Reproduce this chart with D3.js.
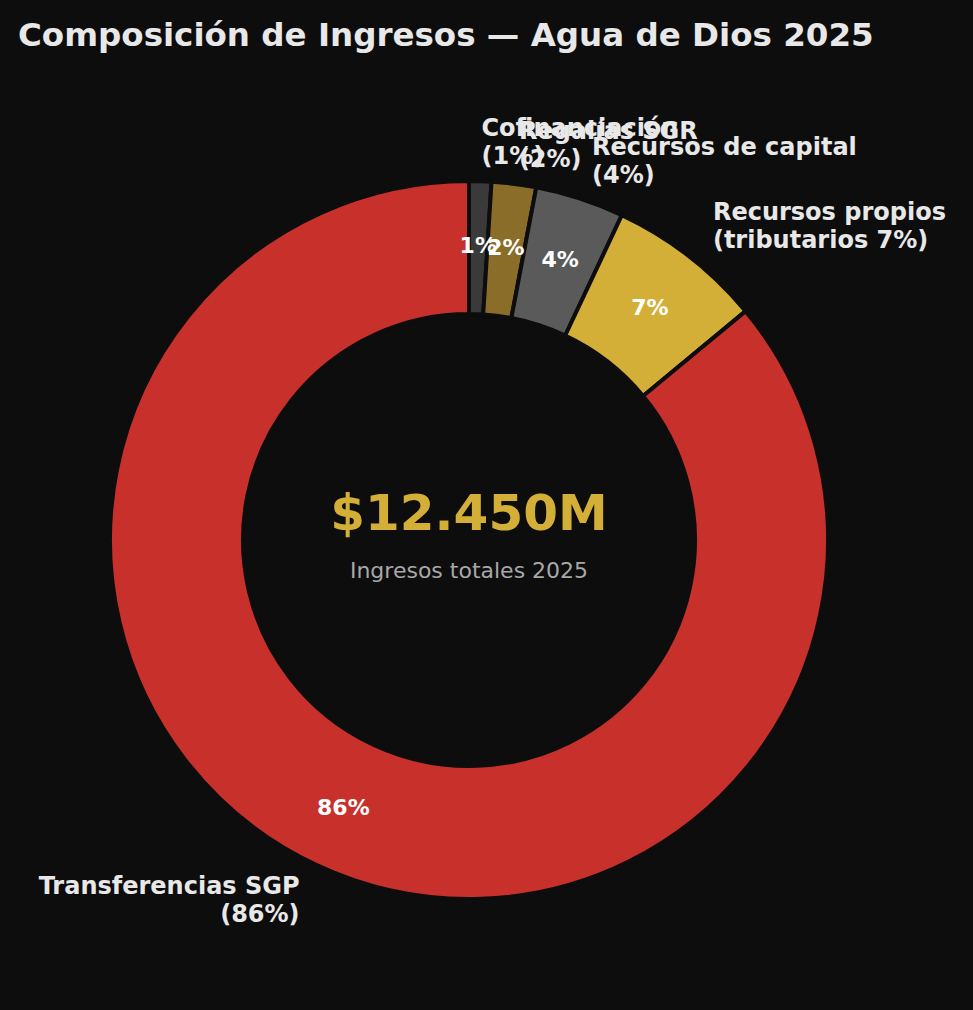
<!DOCTYPE html>
<html><head><meta charset="utf-8">
<script src="https://cdn.jsdelivr.net/npm/d3@7"></script>
<style>body{margin:0;background:#0d0d0d;}svg{display:block;font-family:"DejaVu Sans",sans-serif;}</style>
</head><body><div id="chart"></div>
<script>
const labels = [["Cofinanciación", "(1%)"], ["Regalías SGR", "(2%)"], ["Recursos de capital", "(4%)"], ["Recursos propios", "(tributarios 7%)"], ["Transferencias SGP", "(86%)"]];
const values = [1, 2, 4, 7, 86];
const colors = ["#3a3a3a", "#8a6d28", "#5a5a5a", "#d4af37", "#c8302c"];

const W = 973, H = 1010, cx = 469, cy = 540, rOut = 359, rIn = 226;
const svg = d3.select("#chart").append("svg").attr("width", W).attr("height", H);
svg.append("rect").attr("width", W).attr("height", H).attr("fill", "#0d0d0d");
svg.append("text").attr("x", 18).attr("y", 46).attr("fill", "#e8e8e8")
  .attr("font-size", 32.5).attr("font-weight", "bold").text("Composición de Ingresos — Agua de Dios 2025");

const g = svg.append("g").attr("transform", `translate(${cx},${cy})`);
const pie = d3.pie().sort(null).value(d => d);
const arcs = pie(values);
const arc = d3.arc().innerRadius(rIn).outerRadius(rOut);
g.selectAll("path").data(arcs).enter().append("path")
  .attr("d", arc).attr("fill", (d, i) => colors[i])
  .attr("stroke", "#0d0d0d").attr("stroke-width", 4);

// percentage labels inside the ring
const mid = d3.arc().innerRadius(295).outerRadius(295);
g.selectAll("text.pct").data(arcs).enter().append("text")
  .attr("class", "pct")
  .attr("transform", d => `translate(${mid.centroid(d)})`)
  .attr("text-anchor", "middle").attr("dy", "0.35em")
  .attr("fill", "#ffffff").attr("font-size", 22).attr("font-weight", "bold")
  .text(d => d.data + "%");

// outer labels
const R = 398;
arcs.forEach((d, i) => {
  const a = (d.startAngle + d.endAngle) / 2;
  const x = R * Math.sin(a), y = -R * Math.cos(a);
  const t = g.append("text").attr("x", x).attr("y", y - 6)
    .attr("text-anchor", x >= 0 ? "start" : "end")
    .attr("fill", "#e8e8e8").attr("font-size", 24).attr("font-weight", "bold");
  labels[i].forEach((line, j) => {
    t.append("tspan").attr("x", x).attr("dy", j === 0 ? 0 : 28).text(line);
  });
});

g.append("text").attr("y", -28).attr("text-anchor", "middle").attr("dy", "0.35em")
  .attr("fill", "#d4af37").attr("font-size", 50).attr("font-weight", "bold").text("$12.450M");
g.append("text").attr("y", 30).attr("text-anchor", "middle").attr("dy", "0.35em")
  .attr("fill", "#a8a8a8").attr("font-size", 22).text("Ingresos totales 2025");
</script></body></html>
